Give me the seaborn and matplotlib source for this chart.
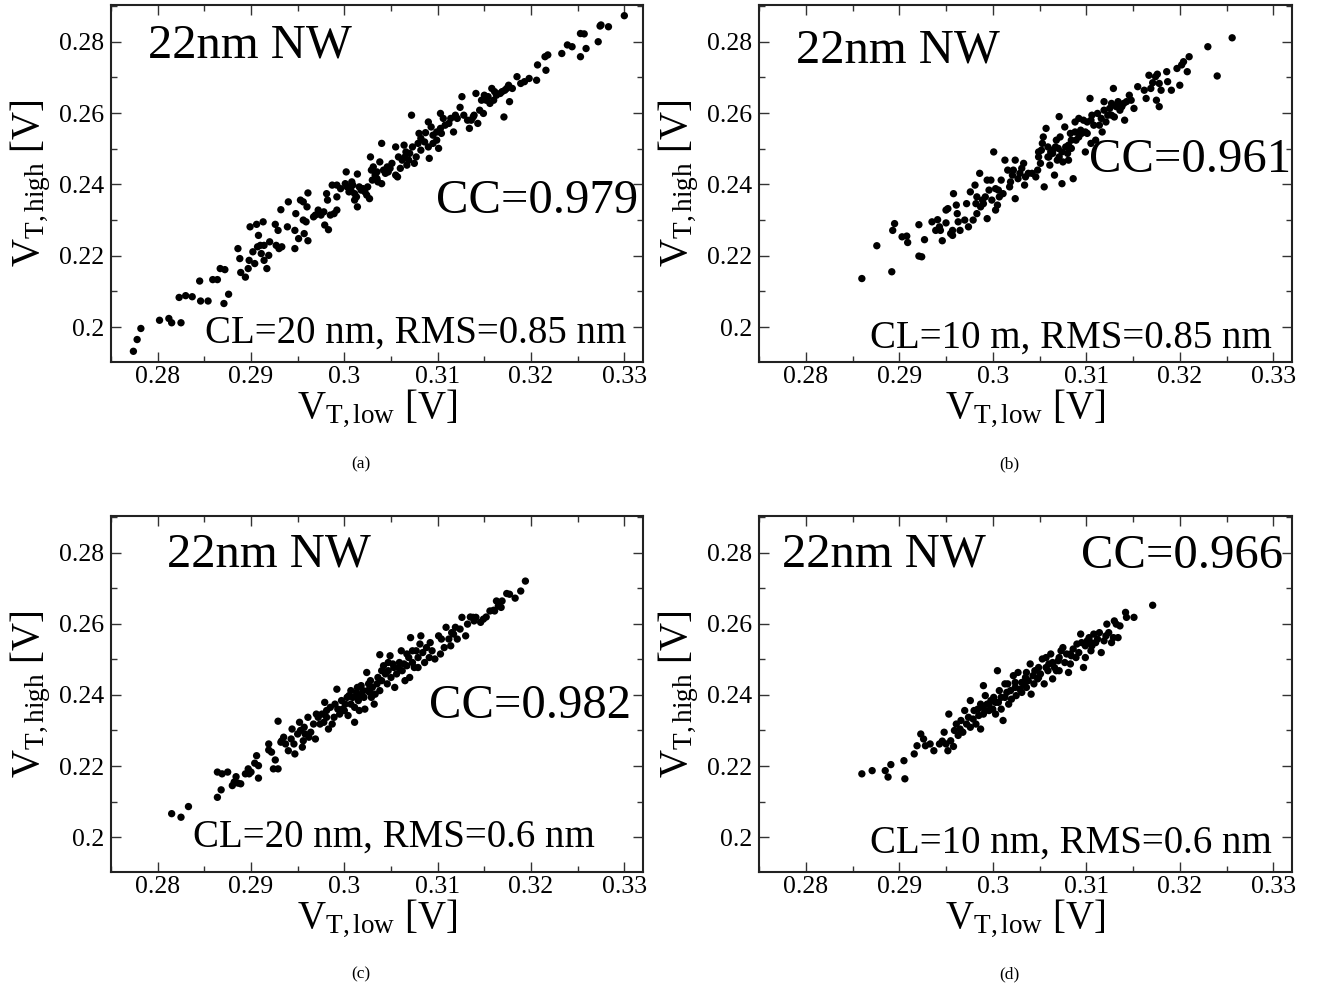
import matplotlib
matplotlib.use("Agg")
import matplotlib.pyplot as plt
import matplotlib.ticker as mticker
import seaborn as sns
import pandas as pd

# ---------------- data (millivolts) : (V_T,low , V_T,high) ----------------
pts_a = [(277.4,193.2),(277.8,196.5),(278.2,199.6),(280.2,201.9),(281.2,202.4),(281.5,201.2),(282.5,201.2),(282.3,208.3),(283.0,208.8),(283.7,208.5),
(284.6,207.3),(285.4,207.3),(284.5,212.9),(285.9,213.3),(286.4,213.3),(286.7,216.4),(287.2,216.1),(287.1,206.6),(287.6,209.2),(288.8,219.2),
(288.9,215.3),(289.4,214.0),(288.6,222.0),(289.8,218.7),(289.7,216.4),(289.9,228.1),(290.6,228.8),(291.3,229.5),(290.2,221.1),(290.4,217.8),
(290.7,222.5),(290.8,225.7),(291.1,220.6),(291.4,218.7),(291.7,216.4),(291.9,220.1),(292.0,223.9),(291.4,222.9),(291.0,222.9),(292.6,228.8),
(292.9,227.1),(292.7,222.9),(293.0,222.0),(293.3,222.5),(293.9,228.1),(293.2,232.9),(294.0,235.1),(294.8,231.8),(294.7,227.1),(294.7,222.0),
(295.1,224.8),(295.3,235.6),(295.6,235.1),(296.1,237.6),(296.0,233.7),(295.9,229.5),(296.1,224.2),(295.7,226.2),(295.6,230.0),(296.7,230.9),
(296.9,231.4),(297.2,232.8),(297.5,231.4),(297.8,232.3),(298.1,237.4),(298.2,235.6),(297.9,228.6),(298.3,227.3),(298.7,239.8),(299.2,239.8),
(299.2,232.8),(298.9,231.8),(298.5,231.4),(299.2,236.5),(299.6,238.8),(300.1,240.2),(300.2,243.5),(300.8,240.7),(301.4,242.9),(300.7,238.4),
(301.3,236.5),(301.4,233.7),(301.1,235.6),(301.8,238.4),(302.2,237.9),(302.4,237.0),(302.7,236.0),(302.8,247.7),(303.1,244.9),(303.0,241.2),
(303.3,242.6),(303.5,241.6),(303.6,240.7),(303.8,246.3),(304.0,251.5),(304.0,240.2),(304.2,244.0),(304.4,243.1),(304.7,243.5),(304.9,244.5),
(305.5,250.5),(305.5,242.6),(305.7,242.1),(306.0,244.5),(306.4,251.0),(306.5,247.7),(306.7,245.4),(306.9,246.8),(307.0,248.7),(307.2,259.4),
(307.5,245.9),(307.7,247.7),(308.0,254.3),(308.2,249.6),(308.7,254.5),(309.0,257.5),(309.1,247.3),(309.3,256.1),(309.5,253.8),(309.9,252.4),
(310.1,250.1),(310.3,259.9),(310.4,254.3),(310.8,256.6),(311.2,257.1),(311.7,254.7),(311.9,259.4),(312.4,261.6),(312.6,264.6),(313.2,258.0),
(313.4,255.7),(313.8,258.9),(314.1,265.5),(314.3,257.1),(314.7,263.6),(314.9,259.9),(315.0,265.0),(315.2,263.6),(315.6,262.7),(315.8,266.9),
(316.1,266.0),(316.7,265.5),(317.1,258.9),(317.2,266.4),(317.6,267.8),(317.7,263.2),(318.5,270.2),(318.9,268.3),(319.3,268.8),(319.8,269.7),
(320.6,269.2),(320.7,273.5),(321.5,275.8),(321.6,272.0),(321.8,276.3),(323.3,276.7),(323.9,279.1),(324.4,278.6),(325.3,275.8),(325.9,278.1),
(325.3,282.3),(325.7,282.2),(327.2,280.0),(327.4,284.4),(327.5,284.7),(328.3,284.2),(330.0,287.3),
(307.3,250.5),(307.9,251.5),(308.2,252.9),(308.6,251.9),(309.0,250.5),(309.5,251.5),(309.9,254.7),(310.3,255.7),(310.6,258.5),(311.4,258.5),
(312.1,258.5),(312.8,259.4),(313.6,258.0),(313.9,259.4),(314.5,260.8),(315.4,264.6),(316.0,263.6),(316.3,265.0),(316.9,266.0),(317.4,266.9),
(318.0,266.9),(300.3,239.3),(300.5,237.9),(300.9,239.8),(301.1,237.4),(301.6,239.3),(302.0,238.8),(302.5,239.3),(302.9,244.0),(303.5,243.5),
(304.6,244.9),(305.1,245.9),(305.8,247.7),(306.2,246.8),(306.6,249.1)]

pts_b = [(286.0,213.6),(287.6,222.8),(289.2,215.5),(289.5,229.0),(289.3,227.1),(290.3,225.3),(290.8,225.5),(290.9,223.7),(292.1,228.7),(292.1,219.9),
(292.4,219.7),(292.7,224.5),(293.5,229.5),(294.1,230.1),(293.9,227.1),(294.3,228.1),(294.4,227.1),(294.6,224.2),(295.0,229.2),(295.0,232.8),
(295.2,233.2),(295.5,226.2),(295.7,227.1),(295.7,225.7),(295.8,237.4),(296.1,234.2),(296.2,231.8),(296.3,229.5),(296.5,227.1),(297.0,230.0),
(297.2,234.6),(297.4,228.1),(297.6,237.9),(297.9,230.0),(298.3,236.5),(298.1,239.8),(298.2,234.6),(298.3,231.8),(298.6,243.1),(298.7,233.7),
(298.9,235.6),(299.0,234.6),(299.2,236.5),(299.4,230.4),(299.4,241.2),(299.6,238.4),(299.8,241.2),(299.9,235.6),(300.1,249.1),(300.3,238.8),
(300.3,232.8),(300.5,234.2),(300.6,238.4),(300.7,236.5),(300.9,241.2),(301.1,237.4),(301.3,246.8),(301.6,244.0),(301.8,239.3),(301.9,240.7),
(302.1,242.6),(302.2,244.0),(302.4,246.8),(302.4,236.0),(302.7,241.6),(302.9,243.1),(303.1,244.5),(303.3,245.9),(303.4,239.8),(303.5,242.1),
(303.8,243.1),(304.2,243.1),(304.6,242.1),(304.8,244.0),(304.9,247.7),(305.1,245.9),(305.3,251.5),(305.4,253.3),(305.5,239.3),(305.7,255.7),
(305.9,250.5),(306.0,247.7),(306.1,245.4),(306.2,249.1),(306.4,248.7),(306.6,242.6),(306.7,250.5),(306.9,246.8),(307.0,250.1),(307.1,259.0),
(307.2,253.3),(307.4,240.2),(307.5,246.3),(307.7,256.1),(307.8,250.5),(308.0,248.7),(308.1,246.8),(308.3,254.3),(308.4,252.4),(308.6,241.6),
(308.8,257.5),(308.9,252.4),(309.2,258.5),(309.4,255.2),(309.7,258.0),(309.9,249.1),(310.1,254.3),(310.4,264.1),(310.5,251.5),(310.6,259.4),
(310.8,256.6),(311.0,252.4),(311.2,259.9),(311.6,258.5),(311.7,254.7),(311.9,263.2),(312.1,257.5),(312.3,259.4),(312.5,261.3),(312.7,262.7),
(312.9,266.9),(313.0,258.9),(313.4,263.2),(313.6,260.8),(313.8,261.8),(314.0,262.7),(314.1,258.0),(314.3,263.2),(314.6,265.0),(314.8,263.6),
(315.1,261.3),(315.5,267.4),(316.2,266.4),(316.4,264.1),(316.7,270.6),(316.9,266.9),(317.1,268.5),(317.4,270.2),(317.5,263.6),(317.6,270.9),
(317.8,261.8),(317.8,268.3),(318.0,266.4),(318.6,271.6),(318.7,268.8),(319.1,266.4),(319.7,272.5),(320.0,267.8),(320.2,273.5),(320.4,274.4),
(320.8,271.6),(321.0,275.8),(323.0,278.6),(324.0,270.4),(325.6,281.1),
(304.9,249.1),(305.2,249.6),(305.9,247.7),(306.4,249.6),(306.8,252.4),(307.1,247.7),(307.4,249.1),(308.1,251.0),(308.4,250.1),(308.8,254.7),
(309.2,253.3),(309.5,254.3),(309.9,254.7),(310.1,257.5),(310.5,258.0),(311.4,256.6),(311.9,260.8),(312.7,259.4),(313.2,261.8)]

pts_c = [(281.5,206.6),(282.5,205.6),(283.3,208.6),(286.4,211.2),(286.8,213.3),(286.4,218.3),(286.9,217.8),(287.5,218.3),(288.0,214.5),(288.2,215.5),
(288.4,217.0),(288.6,215.2),(288.9,215.0),(289.4,217.8),(289.7,219.2),(289.8,217.8),(290.0,218.3),(290.6,222.9),(290.8,220.1),(290.8,216.6),
(290.4,220.8),(291.9,226.2),(291.9,224.5),(292.2,223.9),(292.6,221.7),(292.9,219.2),(292.4,219.2),(292.9,232.6),(293.2,226.7),(293.3,227.1),
(293.5,228.1),(293.7,226.2),(294.0,224.3),(294.3,227.6),(294.4,230.4),(294.6,226.2),(294.7,223.4),(295.0,229.0),(295.2,232.3),(295.3,230.0),
(295.5,225.3),(295.6,227.1),(295.7,230.9),(295.8,229.0),(296.1,233.7),(296.2,228.1),(296.4,229.5),(296.7,231.8),(296.9,227.6),(297.0,234.6),
(297.2,233.7),(297.4,231.8),(297.6,234.6),(297.8,232.3),(297.9,237.9),(298.1,235.6),(298.1,233.7),(298.3,230.4),(298.5,236.5),(298.7,231.8),
(298.9,233.7),(299.0,237.4),(299.2,241.6),(299.3,236.0),(299.5,234.6),(299.7,238.4),(299.8,236.0),(300.0,235.6),(300.1,237.4),(300.3,239.3),
(300.4,234.2),(300.5,239.8),(300.7,237.4),(300.9,239.3),(301.1,232.3),(301.1,236.5),(301.3,240.7),(301.4,242.1),(301.5,238.4),(301.6,235.6),
(301.8,242.6),(301.9,239.8),(302.1,239.3),(302.2,236.0),(302.4,246.3),(302.5,241.2),(302.6,243.1),(302.7,240.7),(302.8,244.0),(303.0,242.1),
(303.2,237.4),(303.3,240.2),(303.5,243.1),(303.6,244.9),(303.8,251.3),(303.8,241.2),(304.0,244.0),(304.2,248.2),(304.4,245.9),(304.6,243.1),
(304.7,246.8),(304.9,251.0),(305.0,244.9),(305.2,248.7),(305.4,242.1),(305.6,245.9),(305.8,247.7),(305.9,249.1),(306.1,252.4),(306.2,246.8),
(306.4,248.7),(306.5,244.0),(306.7,251.5),(306.9,250.5),(307.0,244.9),(307.1,256.1),(307.3,249.1),(307.5,247.7),(307.7,252.4),(307.9,250.5),
(308.1,254.3),(308.2,256.6),(308.4,251.9),(308.6,249.1),(308.8,253.3),(309.1,250.5),(309.2,254.7),(309.4,252.4),(309.7,250.1),(310.1,256.6),
(310.3,251.5),(310.4,255.7),(310.7,253.3),(310.9,259.0),(311.2,255.7),(311.4,253.8),(311.5,257.5),(311.7,257.1),(312.4,258.5),(312.6,261.8),
(313.0,256.6),(313.2,259.9),(313.5,261.9),(313.8,261.8),(314.1,261.8),(314.6,260.4),(315.2,261.9),(316.0,263.8),(316.3,266.4),(316.5,265.0),
(316.8,264.6),(317.4,268.5),(317.7,268.3),(318.3,267.2),(318.9,269.2),(319.4,272.0),
(300.7,241.2),(301.4,239.8),(302.0,241.2),(302.9,239.3),(304.0,246.8),(304.7,249.1),(305.3,247.7),(306.7,248.2),(307.3,252.4),(307.9,247.7),
(311.9,259.0),(312.1,255.7),(313.9,260.8),(314.9,261.3),(315.6,263.6),(316.1,263.6),(316.9,266.4)]

pts_d = [(286.0,217.8),(287.1,218.7),(288.5,218.7),(288.8,216.9),(289.1,220.4),(290.5,221.5),(290.6,216.4),(291.6,223.4),(291.9,225.7),(292.3,229.0),
(292.6,227.6),(292.8,225.7),(293.3,226.2),(293.7,224.3),(294.3,226.2),(294.6,227.0),(294.8,229.5),(295.0,226.2),(295.2,224.3),(295.3,234.6),
(295.5,227.1),(295.8,225.5),(295.9,230.0),(296.1,231.8),(296.3,228.6),(296.5,230.4),(296.6,232.8),(296.8,229.5),(297.0,235.6),(297.2,231.8),
(297.4,233.7),(297.6,238.4),(297.6,230.9),(297.9,233.2),(298.0,235.6),(298.2,231.8),(298.4,236.0),(298.5,234.2),(298.7,230.4),(298.9,236.5),
(299.0,242.6),(299.0,234.6),(299.2,239.8),(299.4,237.4),(299.6,235.6),(299.8,238.4),(300.0,236.0),(300.1,239.3),(300.3,234.6),(300.5,246.8),
(300.6,237.9),(300.7,241.2),(300.9,236.0),(301.1,232.8),(301.3,243.1),(301.3,239.3),(301.5,240.7),(301.7,237.4),(301.9,241.2),(302.0,238.8),
(302.2,245.4),(302.4,242.1),(302.5,239.8),(302.7,246.3),(302.9,241.6),(303.1,240.7),(303.3,243.1),(303.5,244.9),(303.6,242.1),(303.8,244.0),
(304.0,248.7),(304.1,240.2),(304.3,245.4),(304.5,246.8),(304.8,244.5),(304.9,247.7),(305.1,245.9),(305.3,250.1),(305.5,243.1),(305.7,250.5),
(305.9,246.8),(306.0,248.7),(306.2,251.5),(306.4,244.5),(306.6,247.7),(306.8,246.8),(307.0,249.6),(307.1,246.8),(307.3,252.4),(307.5,253.3),
(307.7,249.1),(307.9,251.5),(308.1,246.3),(308.3,248.7),(308.4,251.0),(308.6,252.9),(308.9,250.5),(309.2,251.9),(309.4,257.1),(309.5,254.7),
(309.7,247.7),(309.9,250.5),(310.1,255.2),(310.3,256.1),(310.5,252.4),(310.6,253.8),(310.8,257.1),(311.2,255.7),(311.4,257.5),(311.6,251.9),
(311.9,255.2),(312.2,259.9),(312.4,257.5),(312.7,254.7),(312.9,256.1),(313.0,260.8),(313.2,259.9),(313.4,256.1),(313.6,259.4),(314.2,263.2),
(314.3,261.8),(315.1,261.8),(317.1,265.2),
(298.7,237.4),(299.2,235.6),(299.6,237.4),(300.3,237.9),(300.9,239.3),(301.6,243.1),(302.4,243.5),(303.1,243.5),(303.6,246.3),(304.4,243.1),
(304.9,244.9),(305.7,247.7),(306.4,249.1),(307.1,250.5),(308.3,251.5),(309.0,254.3),(309.9,253.8),(310.5,254.7),(311.0,254.7),(312.1,256.6)]

panel_points = [pts_a, pts_b, pts_c, pts_d]
cc_labels = ["CC=0.979", "CC=0.961", "CC=0.982", "CC=0.966"]
cond_labels = ["CL=20 nm, RMS=0.85 nm", "CL=10 m, RMS=0.85 nm",
               "CL=20 nm, RMS=0.6 nm", "CL=10 nm, RMS=0.6 nm"]
captions = ["(a)", "(b)", "(c)", "(d)"]
title_text = "22nm NW"
x_label = r"$\mathrm{V_{T,low}}$ [V]"
y_label = r"$\mathrm{V_{T,high}}$ [V]"
x_ticks = [0.28, 0.29, 0.30, 0.31, 0.32, 0.33]
y_ticks = [0.20, 0.22, 0.24, 0.26, 0.28]

# ---------------- style ----------------
sns.set_style("ticks")
plt.rcParams["font.family"] = ["Liberation Serif", "DejaVu Serif"]
plt.rcParams["mathtext.fontset"] = "custom"
plt.rcParams["mathtext.rm"] = "Liberation Serif"
plt.rcParams["mathtext.it"] = "Liberation Serif:italic"
plt.rcParams["mathtext.bf"] = "Liberation Serif:bold"
plt.rcParams["text.color"] = "black"
plt.rcParams["axes.labelcolor"] = "black"
plt.rcParams["xtick.color"] = "black"
plt.rcParams["ytick.color"] = "black"

W, H = 1318, 986
fig = plt.figure(figsize=(W / 100, H / 100), dpi=100)
fig.patch.set_facecolor("white")

# pixel boxes (left, right, top, bottom)
boxes = [(111, 643, 5, 362), (759, 1292, 5, 362),
         (111, 643, 516, 872), (759, 1292, 516, 872)]
xlabel_drop = 55      # px below the axes bottom (label baseline)
caption_drop = 102    # px below the axes bottom (caption centre)
# text placement in axes fraction
title_pos = [(0.070, 0.854), (0.069, 0.838), (0.105, 0.857), (0.043, 0.857)]
cc_pos = [(0.990, 0.417), (0.998, 0.532), (0.977, 0.433), (0.983, 0.854)]
cond_pos = [(0.968, 0.053, "right"), (0.962, 0.039, "right"),
            (0.154, 0.070, "left"), (0.962, 0.053, "right")]

fmt = mticker.FuncFormatter(lambda v, p: "%g" % round(v, 3))

for i, pts in enumerate(panel_points):
    l, r, t, b = boxes[i]
    h = b - t
    ax = fig.add_axes([l / W, 1 - b / H, (r - l) / W, h / H])
    df = pd.DataFrame(pts, columns=["low_mV", "high_mV"])
    df["VT_low"] = df["low_mV"] / 1000.0
    df["VT_high"] = df["high_mV"] / 1000.0
    sns.scatterplot(data=df, x="VT_low", y="VT_high", ax=ax, color="black",
                    s=28, linewidth=0, edgecolor="none", legend=False, zorder=3)
    ax.set_xlim(0.275, 0.332)
    ax.set_ylim(0.1902, 0.2903)
    ax.set_xticks(x_ticks)
    ax.set_yticks(y_ticks)
    ax.xaxis.set_minor_locator(mticker.MultipleLocator(0.005))
    ax.yaxis.set_minor_locator(mticker.MultipleLocator(0.01))
    ax.xaxis.set_major_formatter(fmt)
    ax.yaxis.set_major_formatter(fmt)
    ax.tick_params(which="both", direction="in", top=True, right=True,
                   colors="#333333", labelcolor="black", labelsize=18.5)
    ax.tick_params(axis="x", which="major", pad=3)
    ax.tick_params(axis="y", which="major", pad=5)
    ax.tick_params(which="major", length=7, width=1.0)
    ax.tick_params(which="minor", length=4.5, width=1.0)
    for s in ax.spines.values():
        s.set_linewidth(1.5)
        s.set_color("#222222")
    ax.set_xlabel("")
    ax.set_ylabel("")

    ax.text(0.5, -xlabel_drop / h, x_label, transform=ax.transAxes,
            ha="center", va="baseline", fontsize=28)
    ax.text(-0.15, 0.5, y_label, transform=ax.transAxes,
            ha="center", va="center", rotation=90, fontsize=28)

    tx, ty = title_pos[i]
    ax.text(tx, ty, title_text, transform=ax.transAxes, ha="left",
            va="baseline", fontsize=35, zorder=4)
    cx, cy = cc_pos[i]
    ax.text(cx, cy, cc_labels[i], transform=ax.transAxes, ha="right",
            va="baseline", fontsize=35, zorder=4)
    dx, dy, dha = cond_pos[i]
    ax.text(dx, dy, cond_labels[i], transform=ax.transAxes, ha=dha,
            va="baseline", fontsize=28, zorder=4)
    ax.text(0.47, -caption_drop / h, captions[i],
            transform=ax.transAxes, ha="center", va="center", fontsize=12.5)

fig.savefig("out.png", dpi=100, facecolor="white")
